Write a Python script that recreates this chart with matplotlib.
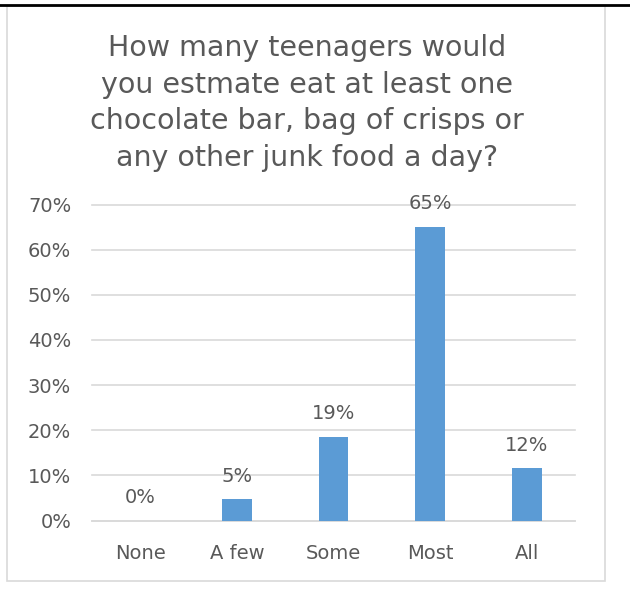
import matplotlib.pyplot as plt
from matplotlib.patches import Rectangle
from matplotlib.lines import Line2D

categories = ['None', 'A few', 'Some', 'Most', 'All']
values = [0, 4.7, 18.6, 65.1, 11.6]
yticks = [0, 10, 20, 30, 40, 50, 60, 70]

grey = '#595959'
plt.rcParams['font.family'] = ['DejaVu Sans']

fig = plt.figure(figsize=(6.3, 6.0), dpi=100)
W, H = 630, 600

# outer frame and top rule
fig.add_artist(Rectangle((7 / W, 1 - 581 / H), 598 / W, 575 / H, transform=fig.transFigure,
                         fill=False, edgecolor='#d9d9d9', linewidth=1.2))
fig.add_artist(Line2D([0, 1], [1 - 5 / H, 1 - 5 / H], transform=fig.transFigure,
                      color='black', linewidth=2))

ax = fig.add_axes([92 / W, 1 - 520.5 / H, 483 / W, (520.5 - 204.5) / H])
x = range(len(categories))
bars = ax.bar(x, values, width=0.31, color='#5b9bd5', zorder=3)
for xi, v in zip(x, values):
    ax.text(xi, v + 3.0, f'{v:.0f}%', ha='center', va='bottom', fontsize=14, color=grey)

ax.set_ylim(0, 70)
ax.set_xlim(-0.5, 4.5)
ax.set_yticks(yticks)
ax.set_yticklabels([f'{t}%' for t in yticks])
ax.set_xticks(list(x))
ax.set_xticklabels(categories)
ax.tick_params(axis='both', length=0, labelsize=14, colors=grey)
ax.tick_params(axis='x', pad=17)
ax.tick_params(axis='y', pad=15)
ax.yaxis.grid(True, color='#d9d9d9', linewidth=1.2, zorder=0)
for gl in ax.get_ygridlines():
    gl.set_clip_on(False)
for s in ['top', 'right', 'left']:
    ax.spines[s].set_visible(False)
ax.spines['bottom'].set_color('#d9d9d9')
ax.spines['bottom'].set_linewidth(1.2)

fig.text(307 / W, 1 - 103 / H,
         'How many teenagers would\nyou estmate eat at least one\nchocolate bar, bag of crisps or\nany other junk food a day?',
         ha='center', va='center', fontsize=20.5, color=grey, linespacing=1.38)

fig.savefig('out.png', dpi=100)
